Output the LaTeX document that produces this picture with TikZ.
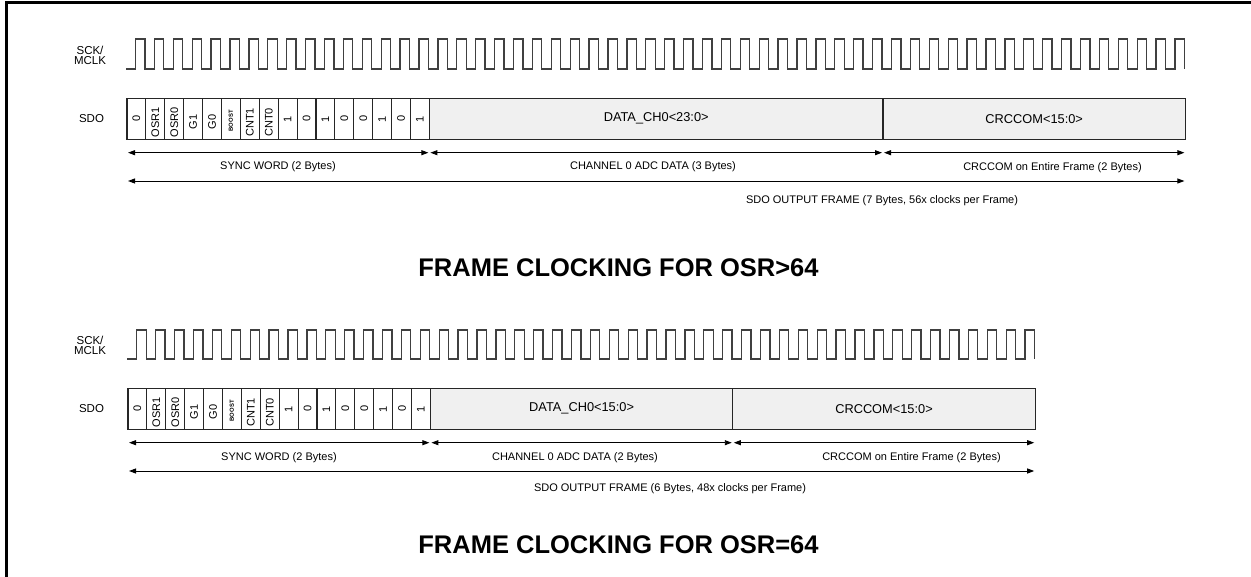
\documentclass[tikz,border=0pt]{standalone}
\usepackage{fontspec}
\setmainfont{Liberation Sans}
\usetikzlibrary{arrows.meta}
\newcommand{\boostlbl}{{\bfseries\fontsize{5.9}{6}\selectfont BOOST}}
\begin{document}
\begin{tikzpicture}[x=1pt,y=-1pt,
  bitbox/.style={draw=black!85, line width=1.1pt, minimum width=18.9pt, minimum height=41pt, inner sep=0pt, outer sep=0pt, anchor=north west, fill=white},
  fieldbox/.style={draw=black!85, line width=1.1pt, minimum height=41pt, inner sep=0pt, outer sep=0pt, anchor=north west, fill=black!6, font=\fontsize{12.8}{14}\selectfont},
  bitlbl/.style={rotate=90, font=\fontsize{11}{12}\selectfont, inner sep=0pt},
  clk/.style={draw=black!75, line width=1.3pt},
  dimarrow/.style={draw=black, line width=0.9pt, {Triangle[length=7pt,width=5pt]}-{Triangle[length=7pt,width=5pt]}, shorten <=1pt, shorten >=1pt},
  dimlbl/.style={font=\fontsize{11}{13}\selectfont, anchor=base, inner sep=0pt},
  sigl/.style={font=\fontsize{11.5}{9.5}\selectfont, align=center, inner sep=0pt},
  ttl/.style={font=\bfseries\fontsize{25.5}{28}\selectfont, inner sep=0pt}
]
\useasboundingbox (0,0) rectangle (1251,577);
\draw[line width=2.5pt] (6.5,577) -- (6.5,2.5) -- (1251,2.5);

% ================= TOP FRAME (OSR>64) =================
\node[sigl] (tsck) at (90,55.5) {SCK/\\MCLK};
\node[sigl] (tsdo) at (91.5,119) {SDO};
\draw[clk] (126,69) \foreach \i in {1,...,56} { -- ++(9.45,0) -- ++(0,-30) -- ++(9.45,0) -- ++(0,30) };

\foreach \lbl/\dy [count=\i from 0] in {0/0,OSR1/3.5,OSR0/3.5,G1/3,G0/3,\boostlbl/2,CNT1/3.5,CNT0/3.5,1/1,0/0,1/1,0/0,0/0,1/1,0/0,1/1} {
  \node[bitbox] (t\i) at (127+18.9*\i, 98.3) {};
  \node[bitlbl] (tl\i) at ([yshift=-\dy pt]t\i.center) {\lbl};
}
\node[fieldbox, minimum width=453.6pt] (tdata) at (t15.north east) {DATA\_CH0<23:0>};
\node[fieldbox, minimum width=302.4pt] (tcrc) at (tdata.north east) {CRCCOM<15:0>};

\draw[dimarrow] ([yshift=-13.4pt]t0.south west) -- ([yshift=-13.4pt]t15.south east);
\draw[dimarrow] ([yshift=-13.4pt]tdata.south west) -- ([yshift=-13.4pt]tdata.south east);
\draw[dimarrow] ([yshift=-13.4pt]tcrc.south west) -- ([yshift=-13.4pt]tcrc.south east);
\draw[dimarrow] ([yshift=-41.7pt]t0.south west) -- ([yshift=-41.7pt]tcrc.south east);

\node[dimlbl] (tsyncl) at (278,170) {SYNC WORD (2 Bytes)};
\node[dimlbl] (tchl) at (653,170) {CHANNEL 0 ADC DATA (3 Bytes)};
\node[dimlbl] (tcrcl) at (1052.5,170.5) {CRCCOM on Entire Frame (2 Bytes)};
\node[dimlbl] (tfrl) at (882,204) {SDO OUTPUT FRAME (7 Bytes, 56x clocks per Frame)};

\node[ttl] (ttitle) at (618.5,268) {FRAME CLOCKING FOR OSR>64};

% ================= BOTTOM FRAME (OSR=64) =================
\node[sigl] (bsck) at (90,345.5) {SCK/\\MCLK};
\node[sigl] (bsdo) at (91.5,409) {SDO};
\draw[clk] (127.3,359) \foreach \i in {1,...,48} { -- ++(9.45,0) -- ++(0,-29) -- ++(9.45,0) -- ++(0,29) };

\foreach \lbl/\dy [count=\i from 0] in {0/0,OSR1/3.5,OSR0/3.5,G1/3,G0/3,\boostlbl/2,CNT1/3.5,CNT0/3.5,1/1,0/0,1/1,0/0,0/0,1/1,0/0,1/1} {
  \node[bitbox] (b\i) at (128+18.9*\i, 388.3) {};
  \node[bitlbl] (bl\i) at ([yshift=-\dy pt]b\i.center) {\lbl};
}
\node[fieldbox, minimum width=302.4pt] (bdata) at (b15.north east) {DATA\_CH0<15:0>};
\node[fieldbox, minimum width=302.4pt] (bcrc) at (bdata.north east) {CRCCOM<15:0>};

\draw[dimarrow] ([yshift=-13.4pt]b0.south west) -- ([yshift=-13.4pt]b15.south east);
\draw[dimarrow] ([yshift=-13.4pt]bdata.south west) -- ([yshift=-13.4pt]bdata.south east);
\draw[dimarrow] ([yshift=-13.4pt]bcrc.south west) -- ([yshift=-13.4pt]bcrc.south east);
\draw[dimarrow] ([yshift=-41.7pt]b0.south west) -- ([yshift=-41.7pt]bcrc.south east);

\node[dimlbl] (bsyncl) at (279,460) {SYNC WORD (2 Bytes)};
\node[dimlbl] (bchl) at (575,460) {CHANNEL 0 ADC DATA (2 Bytes)};
\node[dimlbl] (bcrcl) at (911.5,460.5) {CRCCOM on Entire Frame (2 Bytes)};
\node[dimlbl] (bfrl) at (670,491) {SDO OUTPUT FRAME (6 Bytes, 48x clocks per Frame)};

\node[ttl] (btitle) at (618.5,545) {FRAME CLOCKING FOR OSR=64};
\end{tikzpicture}
\end{document}
